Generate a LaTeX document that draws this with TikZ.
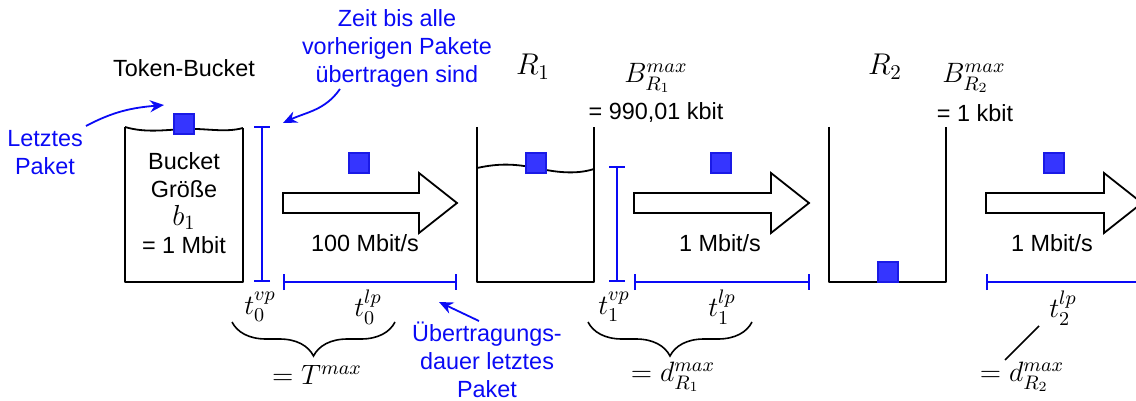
\RequirePackage{fix-cm}
\documentclass[tikz,border=0pt]{standalone}
\usepackage{fontspec}
\setmainfont{Liberation Sans}
\usepackage{amsmath}
\usepackage{tikz}
\usetikzlibrary{positioning, arrows.meta, calc, decorations.pathreplacing}
\definecolor{annot}{HTML}{0A0AF5}
\definecolor{pktfill}{HTML}{3535FF}
\definecolor{pktline}{HTML}{1A1AE6}
\newcommand{\flowarrow}[2]{%
  \draw[flow] (#1,193) -- ({#2-38},193) -- ({#2-38},173) -- (#2,203)
    -- ({#2-38},233) -- ({#2-38},213) -- (#1,213) -- cycle;}

\begin{document}
\begin{tikzpicture}[x=0.5pt, y=-0.5pt,
        every node/.style={font=\fontsize{11.7}{14}\selectfont, inner sep=1pt},
        mth/.style={font=\fontsize{14}{16}\selectfont},
        note/.style={text=annot, align=center},
        pkt/.style={rectangle, draw=pktline, fill=pktfill, line width=0.6pt,
          minimum size=10pt, inner sep=0pt},
        bucket/.style={line width=0.9pt, line join=round},
        flow/.style={line width=0.9pt, fill=white, line join=miter},
        dim/.style={{Bar[width=8pt]}-{Bar[width=8pt]}, annot, line width=0.9pt},
        arr/.style={-{Stealth[length=7pt, width=6pt]}, annot, line width=0.9pt},
        brc/.style={decorate, decoration={brace, mirror, amplitude=17pt}, line width=0.8pt}]
      \clip (0,0) rectangle (1136,401);

      % token bucket
      \draw[bucket] (125,127) -- (125,282) -- (243,282) -- (243,128);
      \draw[bucket] (125,127) .. controls (145,133) and (165,130) .. (184,129)
        .. controls (205,128) and (225,133) .. (243,128);
      \node[pkt] (p0) at (184,124) {};
      \node (tb) at (184,68) {Token-Bucket};
      \node[align=center] (size) at (184,203)
        {Bucket\\Größe\\{\fontsize{14.5}{14}\selectfont$b_1$}\\= 1 Mbit};
      \node[note] (last) at (45,153) {Letztes\\Paket};
      \coordinate (lastend) at (164,105);
      \draw[arr] (86,126) to[out=28, in=185] (lastend);

      \node[note] (wait) at (397,48) {Zeit bis alle\\vorherigen Pakete\\übertragen sind};
      \coordinate (waitend) at (283,123);
      \draw[arr] (340,89) to[out=235, in=25] (waitend);

      % link 1
      \flowarrow{283}{457}
      \node[pkt] (p1) at (359,163) {};
      \node (rate0) at (365,243) {100 Mbit/s};
      \coordinate (v0a) at (262,126);
      \coordinate (v0b) at (262,282);
      \draw[dim] (v0a) -- (v0b);
      \coordinate (h0a) at (283,282);
      \coordinate (h0b) at (457,282);
      \draw[dim] (h0a) -- (h0b);
      \node[mth] (t0vp) at (260,307) {$t_0^{vp}$};
      \node[mth] (t0lp) at (368,307) {$t_0^{lp}$};
      \draw[brc] (232,322) -- (395,322);
      \node[mth] (Tmax) at (317,375) {$=T^{max}$};
      \node[note] (dur) at (487,360) {Übertragungs-\\dauer letztes\\Paket};
      \coordinate (durend) at (439,302);
      \draw[arr] (479,321) -- (durend);

      % router 1
      \draw[bucket] (477,127) -- (477,282) -- (594,282) -- (594,127);
      \draw[bucket] (477,168) .. controls (500,163) and (515,164) .. (536,168)
        .. controls (555,172) and (575,175) .. (594,169);
      \node[pkt] (p2) at (536,163) {};
      \node[mth, font=\fontsize{15}{17}\selectfont] (R1) at (533,67) {$R_1$};
      \node[mth] (B1) at (656,78) {$B_{R_1}^{max}$};
      \node (val1) at (656,113) {= 990,01 kbit};
      \coordinate (v1a) at (617,166);
      \coordinate (v1b) at (617,282);
      \draw[dim] (v1a) -- (v1b);

      % link 2
      \flowarrow{634}{809}
      \node[pkt] (p3) at (721,163) {};
      \node (rate1) at (720,243) {1 Mbit/s};
      \coordinate (h1a) at (634,282);
      \coordinate (h1b) at (810,282);
      \draw[dim] (h1a) -- (h1b);
      \node[mth] (t1vp) at (614,307) {$t_1^{vp}$};
      \node[mth] (t1lp) at (722,307) {$t_1^{lp}$};
      \draw[brc] (588,322) -- (752,322);
      \node[mth] (d1) at (673,377) {$=d_{R_1}^{max}$};

      % router 2
      \draw[bucket] (829,127) -- (829,282) -- (946,282) -- (946,127);
      \node[pkt] (p4) at (888,272) {};
      \node[mth, font=\fontsize{15}{17}\selectfont] (R2) at (885,67) {$R_2$};
      \node[mth] (B2) at (974,78) {$B_{R_2}^{max}$};
      \node (val2) at (975,113) {= 1 kbit};

      % link 3
      \flowarrow{986}{1142}
      \node[pkt] (p5) at (1054,163) {};
      \node (rate2) at (1052,243) {1 Mbit/s};
      \coordinate (h2a) at (986,282);
      \coordinate (h2b) at (1140,282);
      \draw[{Bar[width=8pt]}-, annot, line width=0.9pt] (h2a) -- (h2b);
      \node[mth] (t2lp) at (1063,308) {$t_2^{lp}$};
      \node[mth] (d2) at (1022,377) {$=d_{R_2}^{max}$};
      \coordinate (l2a) at (1039,326);
      \coordinate (l2b) at (1005,360);
      \draw[line width=0.8pt] (l2a) -- (l2b);
    \end{tikzpicture}
\end{document}
